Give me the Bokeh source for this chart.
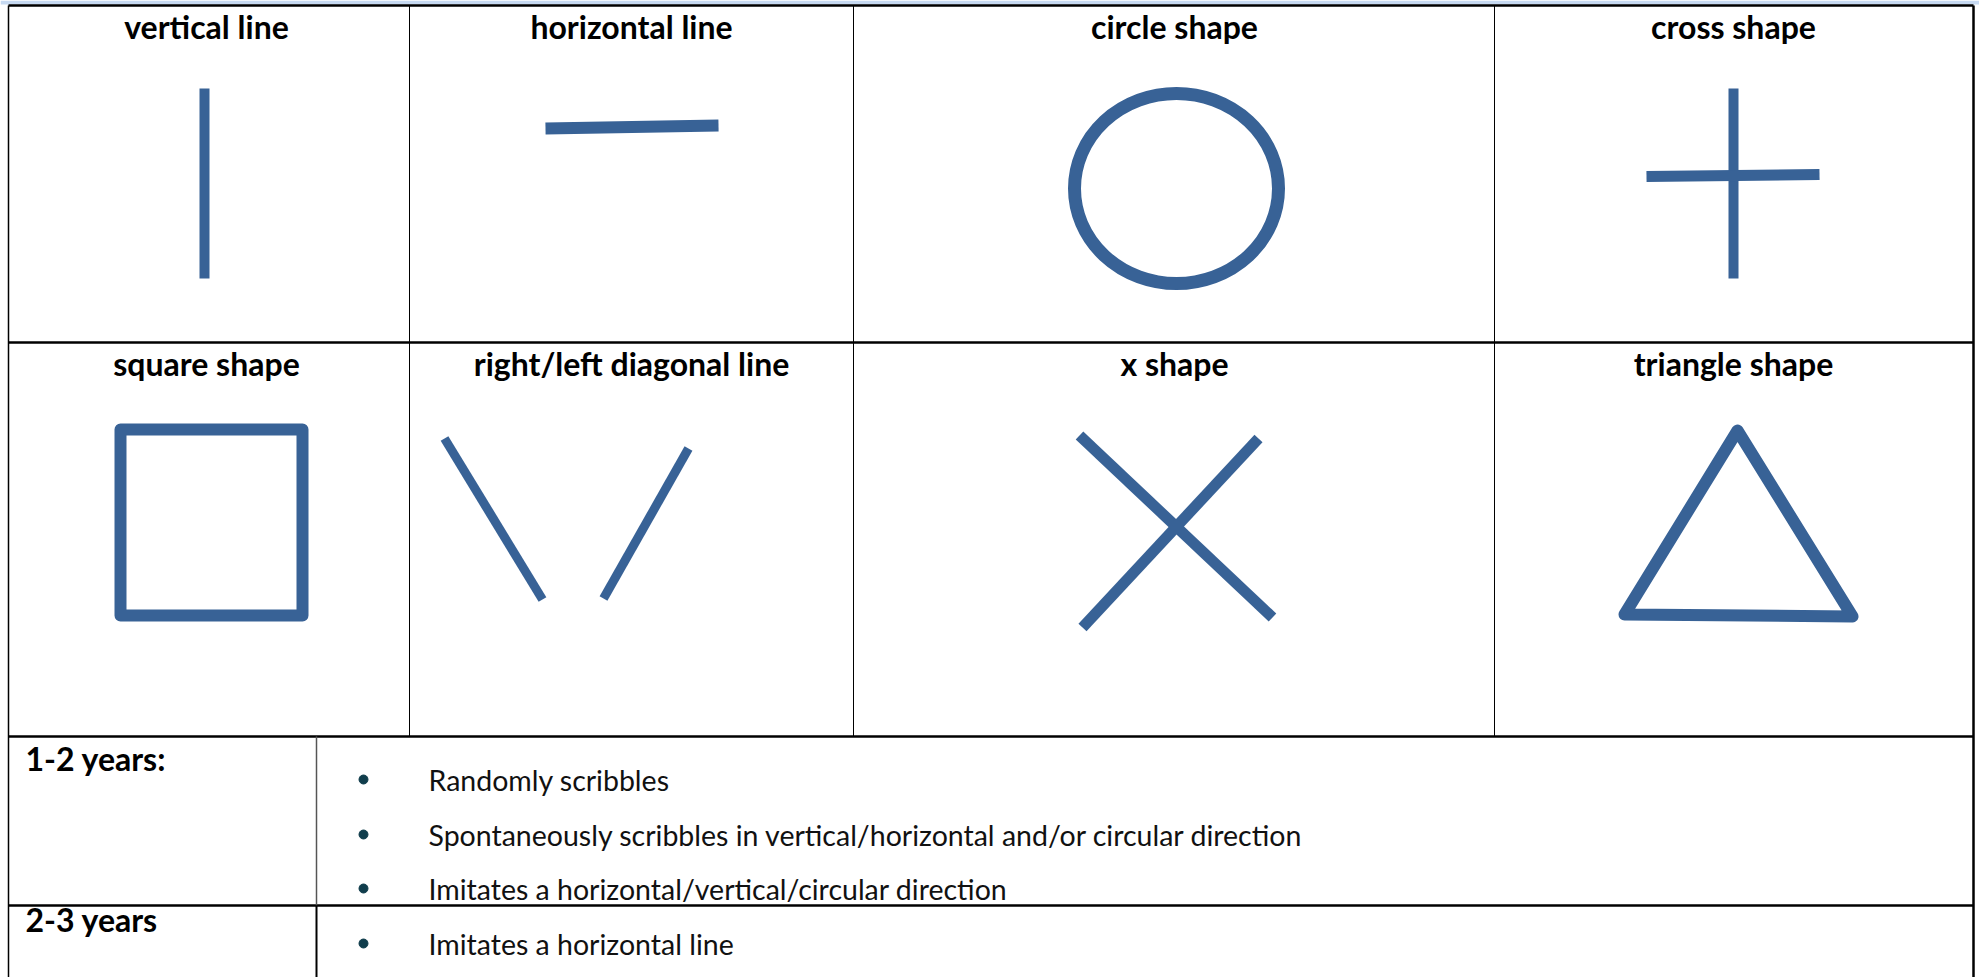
from bokeh.plotting import figure
from bokeh.models import Range1d
from bokeh.core.properties import value
from bokeh.embed import file_html
from bokeh.resources import INLINE

# ---------------- data (reference pixel coordinates) ----------------
W, H = 1979, 977
col_edges = [8, 409, 853, 1494, 1973]
row_top = 5
row_mid = 342
row_age1 = 736
row_age2 = 905
row_bottom = 977
label_col = 316

headers_row1 = ["vertical line", "horizontal line", "circle shape", "cross shape"]
headers_row2 = ["square shape", "right/left diagonal line", "x shape", "triangle shape"]
header_centers = [206, 631, 1174, 1733]
header_mid1 = 26
header_mid2 = 363

age_labels = ["1-2 years:", "2-3 years"]
age_label_y = [758, 919]
bullet_texts = [
    "Randomly scribbles",
    "Spontaneously scribbles in vertical/horizontal and/or circular direction",
    "Imitates a horizontal/vertical/circular direction",
    "Imitates a horizontal line",
]
bullet_y = [779, 834, 888, 943]
bullet_x = 363
text_x = 428

# shapes
straight_x0 = [204, 545, 1733, 1646, 444, 688, 1079, 1258]
straight_y0 = [88, 128, 88, 176, 438, 448, 435, 438]
straight_x1 = [204, 718, 1733, 1819, 542, 603, 1272, 1082]
straight_y1 = [278, 125, 278, 174, 599, 598, 617, 627]
straight_w = [10, 12, 10, 11, 9, 9, 11, 11]

circle_cx, circle_cy, circle_w, circle_h = 1176, 188, 204, 190
square_l, square_r, square_t, square_b = 120, 302, 429, 615
tri_x = [1737, 1852, 1624]
tri_y = [430, 616, 614]

SHAPE = "#386296"
BULLET = "#103d4c"
FONT = value("Lato")

# ---------------- figure ----------------
p = figure(width=W, height=H,
           x_range=Range1d(0, W), y_range=Range1d(H, 0),
           output_backend="svg", toolbar_location=None,
           x_axis_location=None, y_axis_location=None, min_border=0)
p.grid.visible = False
p.outline_line_color = None
p.background_fill_color = "white"
p.border_fill_color = "white"

# light blue band at the top
p.quad(left=[0], right=[W], top=[0], bottom=[4], fill_color="#c6d9f1", line_color=None)

# outer border
p.segment(x0=[col_edges[0]], y0=[row_top], x1=[col_edges[-1]], y1=[row_top],
          line_color="black", line_width=2.5)
p.segment(x0=[col_edges[0], col_edges[-1]], y0=[row_top, row_top],
          x1=[col_edges[0], col_edges[-1]], y1=[row_bottom, row_bottom],
          line_color="black", line_width=[1.5, 2.5])
# horizontal row separators
p.segment(x0=[col_edges[0]] * 3, y0=[row_mid, row_age1, row_age2],
          x1=[col_edges[-1]] * 3, y1=[row_mid, row_age1, row_age2],
          line_color="black", line_width=2.5)
# column separators (top section)
p.segment(x0=col_edges[1:4], y0=[row_top] * 3, x1=col_edges[1:4], y1=[row_age1] * 3,
          line_color="black", line_width=1)
# label column separator (bottom section)
p.segment(x0=[label_col, label_col], y0=[row_age1, row_age2], x1=[label_col, label_col],
          y1=[row_age2, row_bottom], line_color=["#555555", "black"], line_width=[1.5, 2])

# headers
p.text(x=header_centers, y=[header_mid1] * 4, text=headers_row1,
       text_font=FONT, text_font_style="bold", text_font_size="32px",
       text_align="center", text_baseline="middle", text_color="black")
p.text(x=header_centers, y=[header_mid2] * 4, text=headers_row2,
       text_font=FONT, text_font_style="bold", text_font_size="32px",
       text_align="center", text_baseline="middle", text_color="black")

# shapes
p.segment(x0=straight_x0, y0=straight_y0, x1=straight_x1, y1=straight_y1,
          line_color=SHAPE, line_width=straight_w, line_cap="butt")
p.ellipse(x=[circle_cx], y=[circle_cy], width=[circle_w], height=[circle_h],
          fill_color=None, line_color=SHAPE, line_width=13)
p.quad(left=[square_l], right=[square_r], top=[square_t], bottom=[square_b],
       fill_color=None, line_color=SHAPE, line_width=12, line_join="round")
p.patch(x=tri_x, y=tri_y, fill_color=None, fill_alpha=0, line_color=SHAPE,
        line_width=12, line_join="round")

# age labels
p.text(x=[25, 25], y=age_label_y, text=age_labels,
       text_font=FONT, text_font_style="bold", text_font_size="32px",
       text_align="left", text_baseline="middle", text_color="black")

# bullets and texts
p.scatter(x=[bullet_x] * len(bullet_y), y=bullet_y, size=9, color=BULLET)
p.text(x=[text_x] * len(bullet_y), y=bullet_y, text=bullet_texts,
       text_font=FONT, text_font_size="28.5px",
       text_align="left", text_baseline="middle", text_color="#111111")

open("out.html", "w").write(file_html(p, INLINE))
